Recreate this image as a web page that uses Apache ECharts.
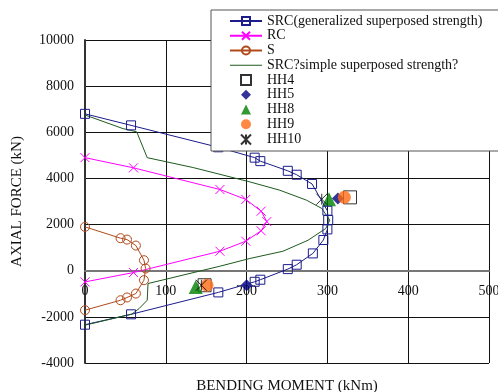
<!DOCTYPE html>
<html>
<head>
<meta charset="utf-8">
<script src="https://cdn.jsdelivr.net/npm/echarts@6/dist/echarts.min.js"></script>
<style>
  html, body { margin: 0; padding: 0; background: #fff; }
  #chart { width: 498px; height: 392px; }
</style>
</head>
<body>
<div id="chart"></div>
<script>
// Interaction curves: bending moment (kNm) vs axial force (kN)
const srcGenM = [0, 57, 165, 210, 217, 251, 262, 281, 300, 301, 300, 295, 282, 262, 251, 217, 210, 165, 57, 0];
const srcGenN = [6800, 6300, 5350, 4900, 4750, 4330, 4160, 3760, 2600, 2200, 1790, 1330, 750, 260, 70, -390, -480, -940, -1890, -2340];

const rcM = [0, 60, 167, 199, 218, 225, 218, 199, 167, 60, 0];
const rcN = [4900, 4460, 3520, 3090, 2580, 2130, 1730, 1280, 845, -80, -485];

const sM = [0, 44, 52, 63, 73, 75, 73, 63, 52, 44, 0];
const sN = [1900, 1410, 1350, 1090, 455, 95, -410, -990, -1160, -1280, -1710];

const srcSimM = [0, 47, 64, 77, 134, 204, 241, 274, 293, 303, 298, 276, 245, 204, 167, 78, 77, 67, 58, 0];
const srcSimN = [6750, 6160, 6020, 4900, 4470, 3850, 3490, 3060, 2700, 2190, 1830, 1320, 845, 530, 195, -555, -1280, -1640, -1880, -2360];

// Test specimens (compression side and tension side)
const hh4M = [328, 148];   const hh4N = [3180, -630];
const hh5M = [313, 200];   const hh5N = [3130, -630];
const hh8M = [302, 137];   const hh8N = [3100, -710];
const hh9M = [321, 151];   const hh9N = [3180, -630];
const hh10M = [293, 144];  const hh10N = [3100, -630];

const xTicks = { min: 0, max: 500, step: 100 };
const yTicks = { min: -4000, max: 10000, step: 2000 };

const names = [
  'SRC(generalized superposed strength)',
  'RC',
  'S',
  'SRC?simple superposed strength?',
  'HH4', 'HH5', 'HH8', 'HH9', 'HH10'
];

const zip = (xs, ys) => xs.map((x, i) => [x, ys[i]]);
const serif = '"Liberation Serif", "DejaVu Serif", serif';

// marker shapes as paths so that legend icons keep their aspect ratio
const SQUARE = 'path://M0,0H10V10H0Z';
const DIAMOND = 'path://M5,0L10,5L5,10L0,5Z';
const TRIANGLE = 'path://M5,0L10,10L0,10Z';
const DISC = 'path://M0,5A5,5,0,1,1,10,5A5,5,0,1,1,0,5Z';
const ASTERISK = 'path://M0,0L10,10M10,0L0,10M5,0L5,10';
const CROSS = 'path://M0,0L10,10M10,0L0,10';
const LINE_ICON = 'path://M0,0H32V1H0Z';

// plot box
const GRID = { left: 85, top: 40, right: 9, bottom: 29 };
const plotH = 392 - GRID.top - GRID.bottom;
// shift the moment axis up from the bottom edge to the N = 0 line
const zeroShift = -plotH * (0 - yTicks.min) / (yTicks.max - yTicks.min);

const chart = echarts.init(document.getElementById('chart'), null, { renderer: 'canvas' });

chart.setOption({
  animation: false,
  backgroundColor: '#fff',
  grid: Object.assign({ containLabel: false, outerBoundsMode: 'none' }, GRID),
  xAxis: {
    type: 'value',
    min: xTicks.min, max: xTicks.max, interval: xTicks.step,
    position: 'bottom',
    offset: zeroShift,
    name: 'BENDING MOMENT (kNm)',
    nameLocation: 'middle',
    nameGap: 108,
    nameTextStyle: { fontFamily: serif, fontSize: 15, color: '#111' },
    axisLine: { onZero: false, lineStyle: { color: '#777', width: 2 } },
    axisTick: { show: false },
    axisLabel: { fontFamily: serif, fontSize: 14, color: '#111', margin: 14 },
    splitLine: { show: true, lineStyle: { color: '#111', width: 1 } }
  },
  yAxis: {
    type: 'value',
    min: yTicks.min, max: yTicks.max, interval: yTicks.step,
    name: 'AXIAL FORCE (kN)',
    nameLocation: 'middle',
    nameGap: 60,
    nameTextStyle: { fontFamily: serif, fontSize: 15, color: '#111' },
    axisLine: { show: true, onZero: false, lineStyle: { color: '#333', width: 2 } },
    axisTick: { show: false },
    axisLabel: { fontFamily: serif, fontSize: 14, color: '#111', margin: 11, formatter: v => String(v) },
    splitLine: { show: true, lineStyle: { color: '#111', width: 1 } }
  },
  legend: {
    orient: 'vertical',
    left: 211, top: 10,
    padding: [4, 40, 4, 18],
    itemWidth: 32, itemHeight: 10, itemGap: 0.75,
    symbolKeepAspect: true,
    backgroundColor: '#fff',
    borderColor: '#555', borderWidth: 1,
    textStyle: { fontFamily: serif, fontSize: 14, color: '#111', lineHeight: 14 },
    data: names.map((n, i) => (i === 3 ? { name: n, icon: LINE_ICON } : { name: n }))
  },
  series: [
    {
      name: names[0], type: 'line', data: zip(srcGenM, srcGenN),
      symbol: SQUARE, symbolSize: 9,
      lineStyle: { color: '#1c1c8c', width: 1 },
      itemStyle: { color: 'rgba(255,255,255,0)', borderColor: '#1c1c8c', borderWidth: 1 }
    },
    {
      name: names[1], type: 'line', data: zip(rcM, rcN),
      symbol: CROSS, symbolSize: 9,
      lineStyle: { color: '#ff00ff', width: 1 },
      itemStyle: { color: 'none', borderColor: '#ff00ff', borderWidth: 1 }
    },
    {
      name: names[2], type: 'line', data: zip(sM, sN),
      symbol: DISC, symbolSize: 9,
      lineStyle: { color: '#b04a1a', width: 1 },
      itemStyle: { color: 'rgba(255,255,255,0)', borderColor: '#b04a1a', borderWidth: 1 }
    },
    {
      name: names[3], type: 'line', data: zip(srcSimM, srcSimN),
      symbol: 'none',
      lineStyle: { color: '#1e5a1e', width: 1 },
      itemStyle: { color: '#1e5a1e' }
    },
    {
      name: names[4], type: 'scatter', data: zip(hh4M, hh4N),
      symbol: SQUARE, symbolSize: 13, symbolKeepAspect: true,
      itemStyle: { color: '#fff', borderColor: '#000', borderWidth: 1 }
    },
    {
      name: names[5], type: 'scatter', data: zip(hh5M, hh5N),
      symbol: DIAMOND, symbolSize: 12, symbolKeepAspect: true,
      itemStyle: { color: '#000080' }
    },
    {
      name: names[6], type: 'scatter', data: zip(hh8M, hh8N),
      symbol: TRIANGLE, symbolSize: 14, symbolKeepAspect: true,
      itemStyle: { color: '#008000' }
    },
    {
      name: names[7], type: 'scatter', data: zip(hh9M, hh9N),
      symbol: DISC, symbolSize: 13, symbolKeepAspect: true,
      itemStyle: { color: '#ff6a13' }
    },
    {
      name: names[8], type: 'scatter', data: zip(hh10M, hh10N),
      symbol: ASTERISK, symbolSize: 11, symbolKeepAspect: true,
      itemStyle: { color: 'none', borderColor: '#000', borderWidth: 1 }
    }
  ]
});
</script>
</body>
</html>
